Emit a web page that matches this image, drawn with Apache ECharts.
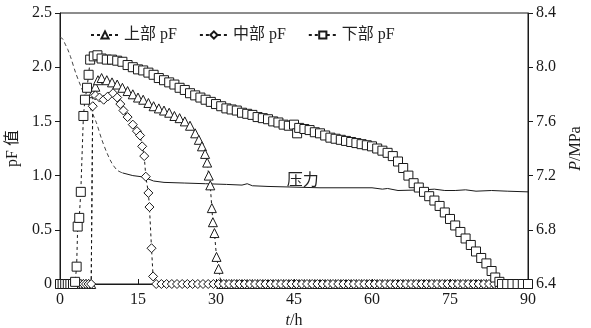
<!DOCTYPE html>
<html>
<head>
<meta charset="utf-8">
<script src="https://cdn.jsdelivr.net/npm/echarts@6/dist/echarts.min.js"></script>
<style>
  html, body { margin: 0; padding: 0; background: #fff; }
  #chart { width: 591px; height: 328px; }
</style>
</head>
<body>
<div id="chart"></div>
<script>
// Elapsed time in hours on x; pF values (left axis) and pressure in MPa (right axis)
const xTicks = [0, 15, 30, 45, 60, 75, 90];

const upperPF = [
  [0,0],[0.5,0],[1,0],[1.5,0],[2,0],[2.5,0],[3,0],[3.5,0],[4,0],[4.5,0],[5,0],[5.5,0],[6,0],
  [6.3,1.76],[6.8,1.82],[7.3,1.88],[8,1.90],[9,1.88],[10,1.86],[11,1.84],[12,1.81],[13,1.78],
  [14,1.75],[15,1.72],[16,1.70],[17,1.67],[18,1.64],[19,1.62],[20,1.60],[21,1.58],[22,1.55],
  [23,1.53],[24,1.50],[25,1.46],[26,1.39],[26.7,1.33],[27.3,1.27],[27.9,1.20],[28.3,1.12],
  [28.6,1.00],[28.9,0.91],[29.2,0.70],[29.4,0.57],[29.7,0.47],[30.1,0.25],[30.5,0.14],[31,0],
  [32,0],[33,0],[34,0],[35,0],[36,0],[37,0],[38,0],[39,0],[40,0],[41,0],[42,0],[43,0],[44,0],
  [45,0],[46,0],[47,0],[48,0],[49,0],[50,0],[51,0],[52,0],[53,0],[54,0],[55,0],[56,0],[57,0],
  [58,0],[59,0],[60,0],[61,0],[62,0],[63,0],[64,0],[65,0],[66,0],[67,0],[68,0],[69,0],[70,0],
  [71,0],[72,0],[73,0],[74,0],[75,0],[76,0],[77,0],[78,0],[79,0],[80,0],[81,0],[82,0],[83,0],
  [84,0],[85,0],[86,0],[87,0],[88,0],[89,0],[90,0]
];

const middlePF = [
  [0,0],[0.5,0],[1,0],[1.5,0],[2,0],[2.5,0],[3,0],[3.5,0],[4,0],[4.5,0],[5,0],[5.5,0],[6,0],
  [6.3,1.64],[6.8,1.74],[7.6,1.72],[8.4,1.70],[9.2,1.73],[10.2,1.76],[11,1.72],[11.6,1.66],
  [12.2,1.60],[13,1.54],[14,1.47],[14.8,1.41],[15.4,1.37],[15.8,1.27],[16.2,1.18],[16.5,0.99],
  [17,0.84],[17.2,0.71],[17.6,0.33],[17.9,0.07],[18.5,0],
  [19.5,0],[20.5,0],[21.5,0],[22.5,0],[23.5,0],[24.5,0],[25.5,0],[26.5,0],[27.5,0],[28.5,0],
  [29.5,0],[30.5,0],[31.5,0],[32.5,0],[33.5,0],[34.5,0],[35.5,0],[36.5,0],[37.5,0],[38.5,0],
  [39.5,0],[40.5,0],[41.5,0],[42.5,0],[43.5,0],[44.5,0],[45.5,0],[46.5,0],[47.5,0],[48.5,0],
  [49.5,0],[50.5,0],[51.5,0],[52.5,0],[53.5,0],[54.5,0],[55.5,0],[56.5,0],[57.5,0],[58.5,0],
  [59.5,0],[60.5,0],[61.5,0],[62.5,0],[63.5,0],[64.5,0],[65.5,0],[66.5,0],[67.5,0],[68.5,0],
  [69.5,0],[70.5,0],[71.5,0],[72.5,0],[73.5,0],[74.5,0],[75.5,0],[76.5,0],[77.5,0],[78.5,0],
  [79.5,0],[80.5,0],[81.5,0],[82.5,0],[83.5,0],[84.5,0],[85.5,0],[86.5,0],[87.5,0],[88.5,0],
  [89.5,0]
];

const lowerPF = [
  [0,0],[0.5,0],[1,0],[1.5,0],[2,0],[2.5,0],[2.9,0.02],[3.2,0.16],[3.4,0.53],[3.7,0.61],
  [4,0.85],[4.5,1.55],[4.8,1.70],[5.2,1.81],[5.5,1.93],[5.8,2.07],[6.5,2.10],[7.2,2.11],
  [8,2.08],[9,2.07],[10,2.07],[11,2.06],[12,2.05],[13,2.02],[14,2.00],[15,1.98],[16,1.97],
  [17,1.95],[18,1.93],[19,1.90],[20,1.88],[21,1.86],[22,1.84],[23,1.81],[24,1.79],[25,1.76],
  [26,1.74],[27,1.72],[28,1.70],[29,1.68],[30,1.66],[31,1.64],[32,1.62],[33,1.61],[34,1.60],
  [35,1.58],[36,1.57],[37,1.56],[38,1.54],[39,1.53],[40,1.52],[41,1.50],[42,1.49],[43,1.47],
  [44,1.46],[45,1.47],[45.6,1.39],[46,1.44],[47,1.43],[48,1.42],[49,1.40],[50,1.39],[51,1.37],
  [52,1.35],[53,1.34],[54,1.33],[55,1.32],[56,1.31],[57,1.30],[58,1.29],[59,1.28],[60,1.27],
  [61,1.25],[62,1.23],[63,1.21],[64,1.18],[65,1.13],[66,1.07],[67,1.00],[68,0.93],[69,0.89],
  [70,0.85],[71,0.81],[72,0.77],[73,0.72],[74,0.66],[75,0.60],[76,0.54],[77,0.48],[78,0.42],
  [79,0.36],[80,0.30],[81,0.24],[82,0.19],[83,0.12],[83.7,0.06],[84.5,0.02],[85,0],[86,0],
  [87,0],[88,0],[89,0],[90,0]
];

// Pressure: early stage (dashed) and the remainder (solid)
const pressureEarly = [
  [0,8.22],[0.5,8.21],[1,8.17],[1.5,8.13],[2,8.08],[3,7.96],[4,7.86],[5,7.77],[6,7.68],
  [7,7.59],[8,7.47],[9,7.37],[10,7.29],[11,7.24],[12,7.22]
];
const pressureLate = [
  [12,7.22],[14,7.20],[16,7.19],[18,7.16],[20,7.15],[24,7.145],[28,7.14],[32,7.135],[35,7.13],
  [36,7.14],[37,7.125],[40,7.12],[45,7.115],[50,7.11],[55,7.11],[60,7.11],[62,7.10],[63,7.105],
  [65,7.09],[70,7.095],[72,7.10],[74,7.09],[76,7.09],[78,7.095],[80,7.085],[83,7.09],[86,7.085],
  [90,7.08]
];

const seriesNames = ['上部 pF', '中部 pF', '下部 pF'];
const pressureLabel = '压力';

const SERIF = '"Liberation Serif", "DejaVu Serif", "Noto Sans CJK SC", serif';
const INK = '#1a1a1a';

function pfSeries(name, data, symbol, size) {
  return {
    name: name,
    type: 'line',
    yAxisIndex: 0,
    data: data,
    symbol: symbol,
    symbolSize: size,
    showAllSymbol: true,
    lineStyle: { color: INK, width: 1, type: [3, 3] },
    itemStyle: { color: '#fff', borderColor: INK, borderWidth: 1 },
    emphasis: { disabled: true },
    animation: false,
    z: 3
  };
}

const chart = echarts.init(document.getElementById('chart'), null, { renderer: 'canvas' });

chart.setOption({
  animation: false,
  backgroundColor: '#fff',
  textStyle: { fontFamily: SERIF, color: INK },
  grid: {
    left: 60, right: 63, top: 13, bottom: 44,
    outerBoundsMode: 'none',
    containLabel: false,
    show: true, borderColor: INK, borderWidth: 1
  },
  legend: {
    data: seriesNames,
    left: 85, top: 22,
    itemWidth: 28, itemHeight: 9, itemGap: 22,
    textStyle: { fontFamily: SERIF, fontSize: 16, color: '#222' }
  },
  xAxis: {
    type: 'value',
    min: xTicks[0], max: xTicks[xTicks.length - 1], interval: 15,
    name: '{i|t}/h',
    nameLocation: 'middle',
    nameGap: 21,
    nameTextStyle: {
      fontFamily: SERIF, fontSize: 16, color: INK,
      rich: { i: { fontFamily: SERIF, fontStyle: 'italic', fontSize: 16, color: INK } }
    },
    axisLine: { lineStyle: { color: INK, width: 1 } },
    axisTick: { inside: true, length: 5, lineStyle: { color: INK } },
    axisLabel: { fontFamily: SERIF, fontSize: 16, color: INK, margin: 8 },
    splitLine: { show: false }
  },
  yAxis: [
    {
      type: 'value',
      min: 0, max: 2.5, interval: 0.5,
      name: 'pF 值',
      nameLocation: 'middle',
      nameGap: 34,
      nameRotate: 90,
      nameTextStyle: { fontFamily: SERIF, fontSize: 16, color: INK },
      axisLine: { show: true, lineStyle: { color: INK, width: 1 } },
      axisTick: { show: true, length: 5, lineStyle: { color: INK } },
      axisLabel: {
        fontFamily: SERIF, fontSize: 16, color: INK, margin: 8,
        formatter: v => (v === 0 ? '0' : v.toFixed(1))
      },
      splitLine: { show: false }
    },
    {
      type: 'value',
      position: 'right',
      min: 6.4, max: 8.4, interval: 0.4,
      name: '{i|P}/MPa',
      nameLocation: 'middle',
      nameGap: 40,
      nameRotate: 90,
      nameTextStyle: {
        fontFamily: SERIF, fontSize: 16, color: INK,
        rich: { i: { fontFamily: SERIF, fontStyle: 'italic', fontSize: 16, color: INK } }
      },
      axisLine: { show: true, lineStyle: { color: INK, width: 1 } },
      axisTick: { show: true, length: 5, lineStyle: { color: INK } },
      axisLabel: {
        fontFamily: SERIF, fontSize: 16, color: INK, margin: 8,
        formatter: v => v.toFixed(1)
      },
      splitLine: { show: false }
    }
  ],
  series: [
    {
      name: 'pressure-early',
      type: 'line',
      yAxisIndex: 1,
      data: pressureEarly,
      symbol: 'none',
      smooth: 0.3,
      lineStyle: { color: '#444', width: 1, type: [4, 3] },
      emphasis: { disabled: true },
      z: 2
    },
    {
      name: 'pressure-late',
      type: 'line',
      yAxisIndex: 1,
      data: pressureLate,
      symbol: 'none',
      lineStyle: { color: INK, width: 1 },
      emphasis: { disabled: true },
      z: 2,
      markPoint: {
        symbol: 'circle',
        symbolSize: 0,
        silent: true,
        label: {
          show: true,
          position: 'inside',
          formatter: pressureLabel,
          fontFamily: SERIF, fontSize: 16, color: '#222'
        },
        data: [{ coord: [46.7, 7.16] }]
      }
    },
    pfSeries(seriesNames[0], upperPF, 'triangle', 9),
    pfSeries(seriesNames[1], middlePF, 'diamond', 9),
    pfSeries(seriesNames[2], lowerPF, 'rect', 9)
  ]
});
</script>
</body>
</html>
